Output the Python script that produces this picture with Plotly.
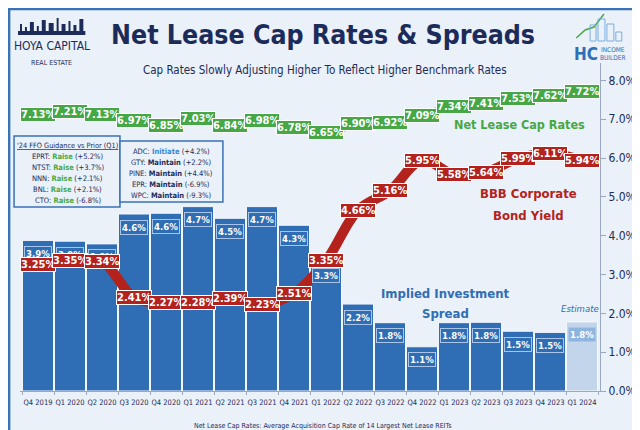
import plotly.graph_objects as go

quarters = ["Q4 2019", "Q1 2020", "Q2 2020", "Q3 2020", "Q4 2020", "Q1 2021", "Q2 2021",
            "Q3 2021", "Q4 2021", "Q1 2022", "Q2 2022", "Q3 2022", "Q4 2022", "Q1 2023",
            "Q2 2023", "Q3 2023", "Q4 2023", "Q1 2024"]
cap_rates = [7.13, 7.21, 7.13, 6.97, 6.85, 7.03, 6.84, 6.98, 6.78, 6.65, 6.90, 6.92,
             7.09, 7.34, 7.41, 7.53, 7.62, 7.72]
bbb_yield = [3.25, 3.35, 3.34, 2.41, 2.27, 2.28, 2.39, 2.23, 2.51, 3.35, 4.66, 5.16,
             5.95, 5.58, 5.64, 5.99, 6.11, 5.94]
spread = [3.88, 3.86, 3.79, 4.56, 4.58, 4.75, 4.45, 4.75, 4.27, 3.30, 2.24, 1.76,
          1.14, 1.76, 1.77, 1.54, 1.51, 1.78]
spread_labels = ["3.9%", "3.9%", "3.8%", "4.6%", "4.6%", "4.7%", "4.5%", "4.7%", "4.3%",
                 "3.3%", "2.2%", "1.8%", "1.1%", "1.8%", "1.8%", "1.5%", "1.5%", "1.8%"]
y_ticks = [0, 1, 2, 3, 4, 5, 6, 7, 8]
y_tick_labels = ["0.0%", "1.0%", "2.0%", "3.0%", "4.0%", "5.0%", "6.0%", "7.0%", "8.0%"]

left_box = [("EPRT", "Raise", "(+5.2%)"), ("NTST", "Raise", "(+3.7%)"),
            ("NNN", "Raise", "(+2.1%)"), ("BNL", "Raise", "(+2.1%)"),
            ("CTO", "Raise", "(-6.8%)")]
mid_box = [("ADC", "Initiate", "(+4.2%)"), ("GTY", "Maintain", "(+2.2%)"),
           ("PINE", "Maintain", "(+4.4%)"), ("EPR", "Maintain", "(-6.9%)"),
           ("WPC", "Maintain", "(-9.3%)")]

NAVY = "#1c2b5a"
BLUE = "#2f6db5"
LIGHT = "#c3d5ea"
GREEN_LINE = "#8cc46a"
GREEN = "#45a845"
RED = "#b4221e"
BG = "#eaf1f8"
COND = "DejaVu Sans Condensed, sans-serif"

W, H = 640, 430
L, R, T, B = 12, 42, 55, 47
PW, PH = W - L - R, H - T - B


def px(x):
    return (x - L) / PW


def py(y):
    return (H - B - y) / PH


fig = go.Figure()

bar_colors = [BLUE] * (len(quarters) - 1) + [LIGHT]
fig.add_trace(go.Bar(x=quarters, y=spread, marker=dict(color=bar_colors, line=dict(color="#f4f8fc", width=1)),
                     hoverinfo="skip", showlegend=False))
fig.add_trace(go.Scatter(x=quarters, y=cap_rates, mode="lines", line=dict(color=GREEN_LINE, width=8, shape="spline"),
                         hoverinfo="skip", showlegend=False))
fig.add_trace(go.Scatter(x=quarters, y=bbb_yield, mode="lines", line=dict(color=RED, width=10, shape="spline"),
                         hoverinfo="skip", showlegend=False))

ann = []
for i, q in enumerate(quarters):
    last = i == len(quarters) - 1
    ann.append(dict(x=q, y=spread[i], xref="x", yref="y", yshift=-13, text="<b>" + spread_labels[i] + "</b>",
                    showarrow=False, font=dict(family=COND, size=9.5, color="white"),
                    bgcolor="#8fb4e0" if last else BLUE, bordercolor="#a9c6ea", borderwidth=1, borderpad=1))
for i, q in enumerate(quarters):
    ann.append(dict(x=q, y=cap_rates[i], xref="x", yref="y", text="<b>%.2f%%</b>" % cap_rates[i],
                    showarrow=False, font=dict(family=COND, size=11, color="white"),
                    bgcolor=GREEN, bordercolor="white", borderwidth=1, borderpad=0))
for i, q in enumerate(quarters):
    ann.append(dict(x=q, y=bbb_yield[i], xref="x", yref="y", text="<b>%.2f%%</b>" % bbb_yield[i],
                    showarrow=False, font=dict(family=COND, size=11, color="white"),
                    bgcolor=RED, bordercolor="white", borderwidth=1, borderpad=0))


def label(x, y, text, size, color, family=COND, **kw):
    d = dict(x=px(x), y=py(y), xref="paper", yref="paper", text=text, showarrow=False,
             font=dict(family=family, size=size, color=color), xanchor="center", yanchor="middle")
    d.update(kw)
    ann.append(d)


# titles
label(318, 27, "<b>Net Lease Cap Rates & Spreads</b>", 26.5, NAVY)
label(320, 62, "Cap Rates Slowly Adjusting Higher To Reflect Higher Benchmark Rates", 11.5, NAVY)
# series labels
label(517, 117, "<b>Net Lease Cap Rates</b>", 12.5, GREEN)
label(526, 185, "<b>BBB Corporate</b>", 13, RED)
label(526, 207, "<b>Bond Yield</b>", 13, RED)
label(442, 285, "<b>Implied Investment</b>", 13, BLUE)
label(442, 305, "<b>Spread</b>", 13, BLUE)
label(578, 300, "<i>Estimate</i>", 9.5, BLUE)
label(318, 418, "Net Lease Cap Rates: Average Acquisition Cap Rate of 14 Largest Net Lease REITs", 7, NAVY)

# logos
label(44, 38, "HOYA CAPITAL", 12, NAVY)
label(44, 55, "REAL ESTATE", 7, NAVY)
label(584, 46, "<b>HC</b>", 17, BLUE)
label(611, 46, "INCOME<br>BUILDER", 6.5, BLUE)

# guidance boxes
label(60, 137, "<u>'24 FFO Guidance vs Prior (Q1)</u>", 7.3, NAVY)
for k, (t, a, v) in enumerate(left_box):
    label(60, 148 + k * 11, "%s: <b><span style='color:%s'>%s</span></b> %s" % (t, GREEN, a, v), 7.5, NAVY)
for k, (t, a, v) in enumerate(mid_box):
    col = "#3a86d4" if a == "Initiate" else NAVY
    label(165, 143 + k * 11, "%s: <b><span style='color:%s'>%s</span></b> %s" % (t, col, a, v), 7.5, NAVY)

shapes = [
    dict(type="rect", xref="paper", yref="paper", x0=px(1), x1=px(639), y0=py(429), y1=py(1),
         line=dict(color="#3a72b8", width=2.5), fillcolor="rgba(0,0,0,0)", layer="above"),
    dict(type="rect", xref="paper", yref="paper", x0=px(6), x1=px(113), y0=py(199), y1=py(128),
         line=dict(color="#3a72b8", width=1.5), fillcolor=BG, layer="above"),
    dict(type="rect", xref="paper", yref="paper", x0=px(113), x1=px(217), y0=py(194), y1=py(133),
         line=dict(color="#3a72b8", width=1.5), fillcolor=BG, layer="above"),
]
# simple skyline for the left logo
sky = [(12, 14, 16), (17, 19, 19), (22, 26, 14), (29, 31, 18), (34, 38, 12), (41, 46, 15), (49, 51, 10),
       (54, 58, 16), (61, 63, 13), (66, 69, 17), (72, 76, 11)]
for x0, x1, top in sky:
    shapes.append(dict(type="rect", xref="paper", yref="paper", x0=px(x0), x1=px(x1), y0=py(26), y1=py(top),
                       line=dict(width=0), fillcolor=NAVY))
shapes.append(dict(type="rect", xref="paper", yref="paper", x0=px(10), x1=px(78), y0=py(27), y1=py(23),
                   line=dict(width=0), fillcolor=NAVY))
# HC building sketch
shapes.append(dict(type="path", xref="paper", yref="paper",
                   path="M %f,%f L %f,%f L %f,%f L %f,%f" % (px(574), py(30), px(583), py(22), px(592), py(19), px(602), py(6)),
                   line=dict(color="#4aa84a", width=1.5)))
for x0, x1, top in [(588, 594, 17), (596, 603, 11), (605, 612, 16), (614, 620, 24)]:
    shapes.append(dict(type="rect", xref="paper", yref="paper", x0=px(x0), x1=px(x1), y0=py(33), y1=py(top),
                       line=dict(color="#7aaee0", width=1), fillcolor="rgba(0,0,0,0)"))

fig.update_layout(
    width=W, height=H, margin=dict(l=L, r=R, t=T, b=B),
    paper_bgcolor=BG, plot_bgcolor=BG, bargap=0.03,
    annotations=ann, shapes=shapes, showlegend=False,
    xaxis=dict(type="category", tickfont=dict(family=COND, size=7.5, color=NAVY), showgrid=False, tickangle=0,
               showline=True, linecolor="#9aa8c0", linewidth=1, ticks="outside", tickson="boundaries",
               ticklen=3, tickcolor="#9aa8c0", ticklabelstandoff=4),
    yaxis=dict(side="right", range=[0, 8.45], tickvals=y_ticks, ticktext=y_tick_labels,
               tickfont=dict(family=COND, size=12, color=NAVY), showgrid=False, zeroline=False,
               showline=True, linecolor="#9aa8c0", linewidth=1, ticks="outside", ticklen=5, tickcolor="#9aa8c0"),
)

fig.write_html("out.html")
